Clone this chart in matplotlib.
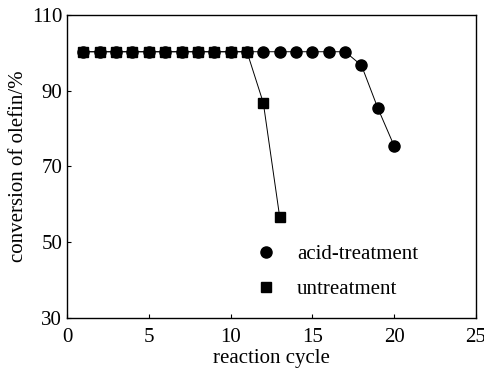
import matplotlib
matplotlib.use("Agg")
import matplotlib.pyplot as plt

plt.rcParams['font.family'] = ['Liberation Serif', 'DejaVu Serif']

acid_x = list(range(1, 21))
acid_y = [100.3]*17 + [96.7, 85.4, 75.4]
un_x = list(range(1, 14))
un_y = [100.3]*11 + [86.8, 56.7]

fig = plt.figure(figsize=(4.85, 3.68), dpi=100)
ax = fig.add_axes([67/485, 1-318/368, (476-67)/485, (318-15)/368])

ax.plot(acid_x, acid_y, '-', color='black', lw=0.7, marker='o', ms=8,
        mfc='black', mec='black', label='acid-treatment')
ax.plot(un_x, un_y, '-', color='black', lw=0.7, marker='s', ms=7,
        mfc='black', mec='black', label='untreatment')

ax.set_xlim(0, 25)
ax.set_ylim(30, 110)
ax.set_xticks([0, 5, 10, 15, 20, 25])
ax.set_yticks([30, 50, 70, 90, 110])
ax.tick_params(direction='in', length=3, labelsize=15, width=0.8)
ax.tick_params(axis='x', pad=7)
for s in ax.spines.values():
    s.set_linewidth(1.0)

ax.set_xlabel('reaction cycle', fontsize=15, labelpad=2)
ax.set_ylabel('conversion of olefin/%', fontsize=15, labelpad=3)

leg = ax.legend(loc='lower left', bbox_to_anchor=(0.415, 0.0), frameon=False,
                fontsize=15, handlelength=1.0, handletextpad=1.0,
                labelspacing=0.75, numpoints=1)
for h in leg.legend_handles:
    h.set_linestyle('None')

fig.savefig('out.png', dpi=100)
